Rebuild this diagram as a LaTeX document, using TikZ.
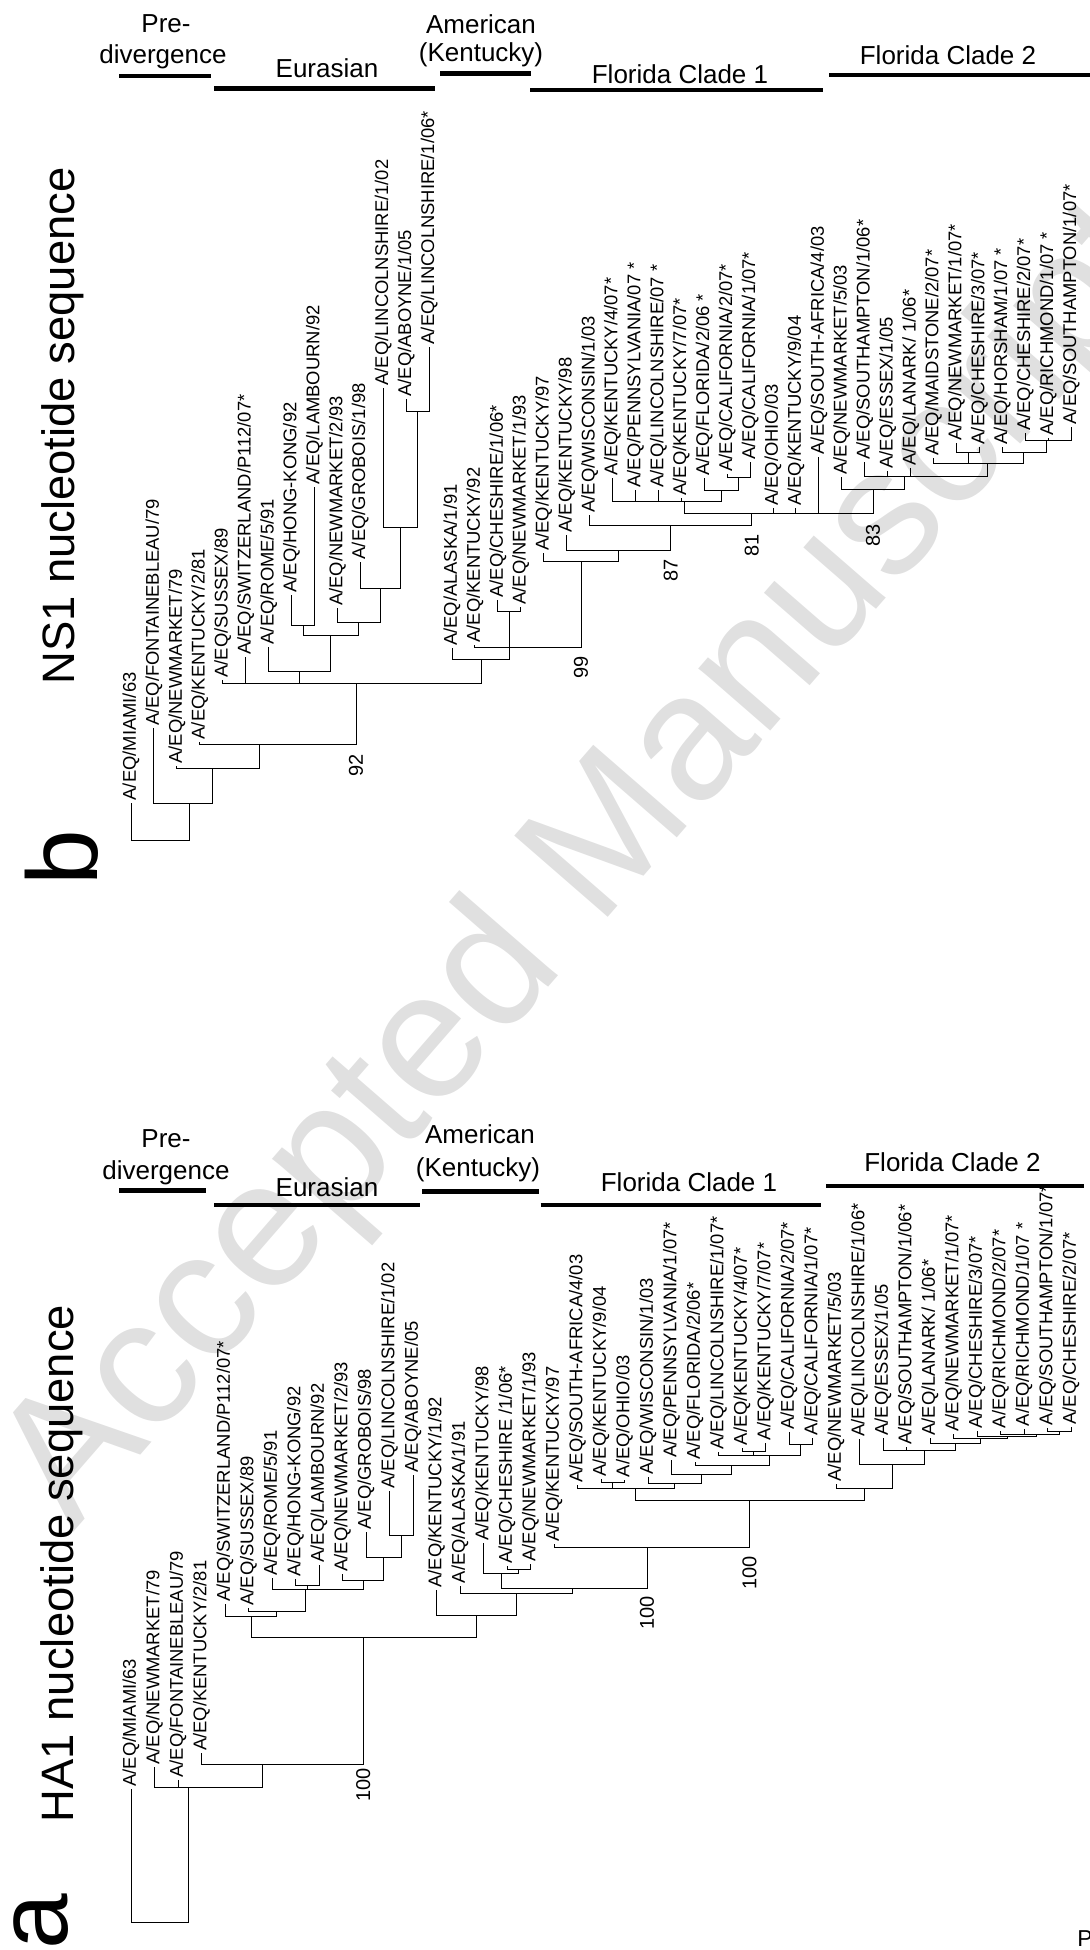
\documentclass[tikz,border=0pt]{standalone}
\usepackage{fontspec}
\setmainfont{Liberation Sans}
\tikzset{
    branch/.style={line width=0.5pt},
    leaf/.style={rotate=90, anchor=west, inner sep=1pt, font=\fontsize{9.2}{10}\selectfont},
    boot/.style={rotate=90, inner sep=0pt, font=\fontsize{10}{11}\selectfont},
    clade/.style={anchor=base, inner sep=0pt, font=\fontsize{13}{15}\selectfont},
    cladebar/.style={line width=2.4pt},
    seqtitle/.style={rotate=90, anchor=base, inner sep=0pt, font=\fontsize{22.7}{26}\selectfont},
    panel/.style={rotate=90, anchor=base, inner sep=0pt, font=\fontsize{50}{55}\selectfont},
}

\begin{document}
\begin{tikzpicture}[x=0.5pt, y=-0.5pt]
    \useasboundingbox (0,0) rectangle (1090,1950);
    \node[rotate=49, text=black!12, font=\fontsize{90}{92}\selectfont] (wmark) at (590,868) {Accepted Manuscript};

    % b: NS1
    \node[panel] (bpanel) at (97,858) {b};
    \node[seqtitle] (btitle) at (74,426) {NS1 nucleotide sequence};

    \node[clade] (bpre) at (166,32.6) {Pre-};
    \node[clade] (bdiv) at (163,63.3) {divergence};
    \node[clade] (beur) at (327,77.3) {Eurasian};
    \node[clade] (bame) at (481,33.3) {American};
    \node[clade] (bken) at (481,61) {(Kentucky)};
    \node[clade] (bfl1) at (680,83.3) {Florida Clade 1};
    \node[clade] (bfl2) at (948,64) {Florida Clade 2};
    \draw[cladebar] (119,76) -- (211,76);
    \draw[cladebar] (214,88.3) -- (435,88.3);
    \draw[cladebar] (440,73.3) -- (531,73.3);
    \draw[cladebar] (530,90) -- (823,90);
    \draw[cladebar] (829,75) -- (1090,75);

    \node[leaf] (b1) at (131.0,802.7) {A/EQ/MIAMI/63};
    \node[leaf] (b2) at (153.9,728.3) {A/EQ/FONTAINEBLEAU/79};
    \node[leaf] (b3) at (176.9,766) {A/EQ/NEWMARKET/79};
    \node[leaf] (b4) at (199.8,741.7) {A/EQ/KENTUCKY/2/81};
    \node[leaf] (b5) at (222.7,680) {A/EQ/SUSSEX/89};
    \node[leaf] (b6) at (245.7,657.3) {A/EQ/SWITZERLAND/P112/07*};
    \node[leaf] (b7) at (268.6,646.7) {A/EQ/ROME/5/91};
    \node[leaf] (b8) at (291.5,595) {A/EQ/HONG-KONG/92};
    \node[leaf] (b9) at (314.4,486.7) {A/EQ/LAMBOURN/92};
    \node[leaf] (b10) at (337.4,608.3) {A/EQ/NEWMARKET/2/93};
    \node[leaf] (b11) at (360.3,561.7) {A/EQ/GROBOIS/1/98};
    \node[leaf] (b12) at (383.2,388) {A/EQ/LINCOLNSHIRE/1/02};
    \node[leaf] (b13) at (406.2,399) {A/EQ/ABOYNE/1/05};
    \node[leaf] (b14) at (429.1,346.7) {A/EQ/LINCOLNSHIRE/1/06*};
    \node[leaf] (b15) at (452.0,648.3) {A/EQ/ALASKA/1/91};
    \node[leaf] (b16) at (474.9,645) {A/EQ/KENTUCKY/92};
    \node[leaf] (b17) at (497.9,600) {A/EQ/CHESHIRE/1/06*};
    \node[leaf] (b18) at (520.8,607) {A/EQ/NEWMARKET/1/93};
    \node[leaf] (b19) at (543.7,553.3) {A/EQ/KENTUCKY/97};
    \node[leaf] (b20) at (566.7,535) {A/EQ/KENTUCKY/98};
    \node[leaf] (b21) at (589.6,515) {A/EQ/WISCONSIN/1/03};
    \node[leaf] (b22) at (612.5,477.5) {A/EQ/KENTUCKY/4/07*};
    \node[leaf] (b23) at (635.4,490) {A/EQ/PENNSYLVANIA/07 *};
    \node[leaf] (b24) at (658.4,490) {A/EQ/LINCOLNSHIRE/07 *};
    \node[leaf] (b25) at (681.3,498) {A/EQ/KENTUCKY/7/07*};
    \node[leaf] (b26) at (704.2,478.3) {A/EQ/FLORIDA/2/06 *};
    \node[leaf] (b27) at (727.2,474) {A/EQ/CALIFORNIA/2/07*};
    \node[leaf] (b28) at (750.1,462) {A/EQ/CALIFORNIA/1/07*};
    \node[leaf] (b29) at (773.0,508.3) {A/EQ/OHIO/03};
    \node[leaf] (b30) at (795.9,508.3) {A/EQ/KENTUCKY/9/04};
    \node[leaf] (b31) at (818.9,456.7) {A/EQ/SOUTH-AFRICA/4/03};
    \node[leaf] (b32) at (841.8,477) {A/EQ/NEWMARKET/5/03};
    \node[leaf] (b33) at (864.7,462) {A/EQ/SOUTHAMPTON/1/06*};
    \node[leaf] (b34) at (887.7,471) {A/EQ/ESSEX/1/05};
    \node[leaf] (b35) at (910.6,468) {A/EQ/LANARK/ 1/06*};
    \node[leaf] (b36) at (933.5,458.3) {A/EQ/MAIDSTONE/2/07*};
    \node[leaf] (b37) at (956.4,443.3) {A/EQ/NEWMARKET/1/07*};
    \node[leaf] (b38) at (979.4,446.7) {A/EQ/CHESHIRE/3/07*};
    \node[leaf] (b39) at (1002.3,446.7) {A/EQ/HORSHAM/1/07 *};
    \node[leaf] (b40) at (1025.2,433.3) {A/EQ/CHESHIRE/2/07*};
    \node[leaf] (b41) at (1048.1,438) {A/EQ/RICHMOND/1/07 *};
    \node[leaf] (b42) at (1071.1,426.7) {A/EQ/SOUTHAMPTON/1/07*};

    \coordinate (broot) at (160,840);
    \coordinate (bA) at (189.8,803.3);
    \coordinate (bB) at (212.7,768.3);
    \coordinate (bC) at (259.3,744);
    \coordinate (bD) at (356,683.3);
    \coordinate (bE) at (299,671.7);
    \coordinate (bG) at (330,635);
    \coordinate (bH) at (303,625);
    \coordinate (bI) at (358.5,622.7);
    \coordinate (bJ) at (380.5,588);
    \coordinate (bK) at (400.6,527);
    \coordinate (bL) at (417.6,411);
    \coordinate (bF) at (481,659.3);
    \coordinate (bM) at (509.5,647.7);
    \coordinate (bN) at (509.4,611.7);
    \coordinate (bP) at (581,561.7);
    \coordinate (bQ) at (618.5,550);
    \coordinate (bR) at (670.7,525);
    \coordinate (bS) at (751.8,513.3);
    \coordinate (bT) at (684,501.3);
    \coordinate (bV) at (721.5,490);
    \coordinate (bW) at (738.7,477);
    \coordinate (bU) at (873,489);
    \coordinate (bX) at (904.5,476);
    \coordinate (bY) at (987,463.5);
    \coordinate (bY1) at (968,452.5);
    \coordinate (bY2) at (1023.5,452.5);
    \coordinate (bY3) at (1046,440.5);

    \draw[branch] (broot) -| (b1) (broot) -| (bA);
    \draw[branch] (bA) -| (b2) (bA) -| (bB);
    \draw[branch] (bB) -| (b3) (bB) -| (bC);
    \draw[branch] (bC) -| (b4) (bC) -| (bD);
    \draw[branch] (bD) -| (b5) (bD) -| (b6) (bD) -| (bE) (bD) -| (bF);
    \draw[branch] (bE) -| (b7) (bE) -| (bG);
    \draw[branch] (bG) -| (bH) (bG) -| (bI);
    \draw[branch] (bH) -| (b8) (bH) -| (b9);
    \draw[branch] (bI) -| (b10) (bI) -| (bJ);
    \draw[branch] (bJ) -| (b11) (bJ) -| (bK);
    \draw[branch] (bK) -| (b12) (bK) -| (bL);
    \draw[branch] (bL) -| (b13) (bL) -| (b14);
    \draw[branch] (bF) -| (b15) (bF) -| (bM);
    \draw[branch] (bM) -| (b16) (bM) -| (bN) (bM) -| (bP);
    \draw[branch] (bN) -| (b17) (bN) -| (b18);
    \draw[branch] (bP) -| (b19) (bP) -| (bQ);
    \draw[branch] (bQ) -| (b20) (bQ) -| (bR);
    \draw[branch] (bR) -| (b21) (bR) -| (bS);
    \draw[branch] (bS) -| (bT) (bS) -| (b29) (bS) -| (b30) (bS) -| (b31) (bS) -| (bU);
    \draw[branch] (bT) -| (b22) (bT) -| (b23) (bT) -| (b24) (bT) -| (b25) (bT) -| (bV);
    \draw[branch] (bV) -| (b26) (bV) -| (bW);
    \draw[branch] (bW) -| (b27) (bW) -| (b28);
    \draw[branch] (bU) -| (b32) (bU) -| (bX);
    \draw[branch] (bX) -| (b33) (bX) -| (b34) (bX) -| (b35) (bX) -| (bY);
    \draw[branch] (bY) -| (b36) (bY) -| (bY1) (bY) -| (bY2);
    \draw[branch] (bY1) -| (b37) (bY1) -| (b38);
    \draw[branch] (bY2) -| (b39) (bY2) -| (bY3);
    \draw[branch] (bY3) -| (b40) (bY3) -| (b41) (bY3) -| (b42);

    \node[boot] (bs92) at (356,765) {92};
    \node[boot] (bs99) at (581,667) {99};
    \node[boot] (bs87) at (670.7,570) {87};
    \node[boot] (bs81) at (751.8,545) {81};
    \node[boot] (bs83) at (873,535) {83};

    % a: HA1
    \node[panel] (apanel) at (68,1922) {a};
    \node[seqtitle] (atitle) at (73.7,1563.4) {HA1 nucleotide sequence};

    \node[clade] (apre) at (166,1147.3) {Pre-};
    \node[clade] (adiv) at (166,1179.3) {divergence};
    \node[clade] (aeur) at (327,1196.7) {Eurasian};
    \node[clade] (aame) at (480,1143.3) {American};
    \node[clade] (aken) at (478,1176.7) {(Kentucky)};
    \node[clade] (afl1) at (689,1191.7) {Florida Clade 1};
    \node[clade] (afl2) at (952.5,1171.7) {Florida Clade 2};
    \draw[cladebar] (119,1190.7) -- (206,1190.7);
    \draw[cladebar] (214,1205) -- (420,1205);
    \draw[cladebar] (422,1191.7) -- (539,1191.7);
    \draw[cladebar] (540.5,1205) -- (821,1205);
    \draw[cladebar] (826,1186) -- (1084,1186);

    \node[leaf] (a1) at (131,1789) {A/EQ/MIAMI/63};
    \node[leaf] (a2) at (154.5,1767) {A/EQ/NEWMARKET/79};
    \node[leaf] (a3) at (178,1780) {A/EQ/FONTAINEBLEAU/79};
    \node[leaf] (a4) at (201.5,1753.3) {A/EQ/KENTUCKY/2/81};
    \node[leaf] (a5) at (225,1604) {A/EQ/SWITZERLAND/P112/07*};
    \node[leaf] (a6) at (248.5,1608) {A/EQ/SUSSEX/89};
    \node[leaf] (a7) at (272,1578.3) {A/EQ/ROME/5/91};
    \node[leaf] (a8) at (295.5,1579) {A/EQ/HONG-KONG/92};
    \node[leaf] (a9) at (319,1565) {A/EQ/LAMBOURN/92};
    \node[leaf] (a10) at (342.5,1574) {A/EQ/NEWMARKET/2/93};
    \node[leaf] (a11) at (366,1532) {A/EQ/GROBOIS/98};
    \node[leaf] (a12) at (389.5,1491) {A/EQ/LINCOLNSHIRE/1/02};
    \node[leaf] (a13) at (413,1475) {A/EQ/ABOYNE/05};
    \node[leaf] (a14) at (436.5,1590) {A/EQ/KENTUCKY/1/92};
    \node[leaf] (a15) at (460,1585.5) {A/EQ/ALASKA/1/91};
    \node[leaf] (a16) at (483.5,1543.3) {A/EQ/KENTUCKY/98};
    \node[leaf] (a17) at (507,1566) {A/EQ/CHESHIRE /1/06*};
    \node[leaf] (a18) at (530.5,1564) {A/EQ/NEWMARKET/1/93};
    \node[leaf] (a19) at (554,1544) {A/EQ/KENTUCKY/97};
    \node[leaf] (a20) at (577.5,1485) {A/EQ/SOUTH-AFRICA/4/03};
    \node[leaf] (a21) at (601,1479) {A/EQ/KENTUCKY/9/04};
    \node[leaf] (a22) at (624.5,1479.5) {A/EQ/OHIO/03};
    \node[leaf] (a23) at (648,1477) {A/EQ/WISCONSIN/1/03};
    \node[leaf] (a24) at (671.5,1460) {A/EQ/PENNSYLVANIA/1/07*};
    \node[leaf] (a25) at (695,1462) {A/EQ/FLORIDA/2/06*};
    \node[leaf] (a26) at (718.5,1452) {A/EQ/LINCOLNSHIRE/1/07*};
    \node[leaf] (a27) at (742,1447.5) {A/EQ/KENTUCKY/4/07*};
    \node[leaf] (a28) at (765.5,1442.5) {A/EQ/KENTUCKY/7/07*};
    \node[leaf] (a29) at (789,1432) {A/EQ/CALIFORNIA/2/07*};
    \node[leaf] (a30) at (812.5,1437.5) {A/EQ/CALIFORNIA/1/07*};
    \node[leaf] (a31) at (836,1484) {A/EQ/NEWMARKET/5/03};
    \node[leaf] (a32) at (859.5,1439) {A/EQ/LINCOLNSHIRE/1/06*};
    \node[leaf] (a33) at (883,1438) {A/EQ/ESSEX/1/05};
    \node[leaf] (a34) at (906.5,1447) {A/EQ/SOUTHAMPTON/1/06*};
    \node[leaf] (a35) at (930,1438) {A/EQ/LANARK/ 1/06*};
    \node[leaf] (a36) at (953.5,1434) {A/EQ/NEWMARKET/1/07*};
    \node[leaf] (a37) at (977,1431) {A/EQ/CHESHIRE/3/07*};
    \node[leaf] (a38) at (1000.5,1430.5) {A/EQ/RICHMOND/2/07*};
    \node[leaf] (a39) at (1024,1428.5) {A/EQ/RICHMOND/1/07 *};
    \node[leaf] (a40) at (1047.5,1427.5) {A/EQ/SOUTHAMPTON/1/07*};
    \node[leaf] (a41) at (1071,1427) {A/EQ/CHESHIRE/2/07*};

    \coordinate (aroot) at (160,1922.7);
    \coordinate (aA) at (188.4,1787.7);
    \coordinate (aB) at (262.4,1764);
    \coordinate (aC) at (363.3,1637.3);
    \coordinate (aD) at (251,1616);
    \coordinate (aD2) at (276.5,1611.7);
    \coordinate (aF) at (305,1589);
    \coordinate (aG) at (307.3,1585);
    \coordinate (aH) at (363.2,1580);
    \coordinate (aI) at (383.8,1557.5);
    \coordinate (aJ) at (401.3,1535.5);
    \coordinate (aE) at (476.3,1615.7);
    \coordinate (aK) at (516.2,1593.3);
    \coordinate (aM) at (572,1588.3);
    \coordinate (aL) at (501.1,1573.3);
    \coordinate (aL2) at (518.8,1569.5);
    \coordinate (aN) at (647,1547.7);
    \coordinate (aO) at (749.4,1500.3);
    \coordinate (aP) at (635,1488.5);
    \coordinate (aP2) at (612.8,1482.7);
    \coordinate (aP3) at (674.8,1483.3);
    \coordinate (aP4) at (701.8,1474);
    \coordinate (aP5) at (731.3,1465);
    \coordinate (aP6) at (769,1455.7);
    \coordinate (aP7) at (753.8,1451.7);
    \coordinate (aP8) at (800.8,1444);
    \coordinate (aQ) at (864.3,1488.3);
    \coordinate (aR) at (892.3,1464);
    \coordinate (aS) at (924.6,1450.5);
    \coordinate (aT) at (955.3,1443.3);
    \coordinate (aU) at (980.3,1438.5);
    \coordinate (aV) at (1007,1436);
    \coordinate (aW) at (1036.4,1434);
    \coordinate (aX) at (1059.3,1431);

    \draw[branch] (aroot) -| (a1) (aroot) -| (aA);
    \draw[branch] (aA) -| (a2) (aA) -| (a3) (aA) -| (aB);
    \draw[branch] (aB) -| (a4) (aB) -| (aC);
    \draw[branch] (aC) -| (aD) (aC) -| (aE);
    \draw[branch] (aD) -| (a5) (aD) -| (aD2);
    \draw[branch] (aD2) -| (a6) (aD2) -| (aF);
    \draw[branch] (aF) -| (a7) (aF) -| (aG) (aF) -| (aH);
    \draw[branch] (aG) -| (a8) (aG) -| (a9);
    \draw[branch] (aH) -| (a10) (aH) -| (aI);
    \draw[branch] (aI) -| (a11) (aI) -| (aJ);
    \draw[branch] (aJ) -| (a12) (aJ) -| (a13);
    \draw[branch] (aE) -| (a14) (aE) -| (aK);
    \draw[branch] (aK) -| (a15) (aK) -| (aM);
    \draw[branch] (aM) -| (aL) (aM) -| (aN);
    \draw[branch] (aL) -| (a16) (aL) -| (aL2);
    \draw[branch] (aL2) -| (a17) (aL2) -| (a18);
    \draw[branch] (aN) -| (a19) (aN) -| (aO);
    \draw[branch] (aO) -| (aP) (aO) -| (aQ);
    \draw[branch] (aP) -| (a20) (aP) -| (aP2) (aP) -| (aP3);
    \draw[branch] (aP2) -| (a21) (aP2) -| (a22);
    \draw[branch] (aP3) -| (a23) (aP3) -| (aP4);
    \draw[branch] (aP4) -| (a24) (aP4) -| (aP5);
    \draw[branch] (aP5) -| (a25) (aP5) -| (aP6);
    \draw[branch] (aP6) -| (a26) (aP6) -| (aP7) (aP6) -| (aP8);
    \draw[branch] (aP7) -| (a27) (aP7) -| (a28);
    \draw[branch] (aP8) -| (a29) (aP8) -| (a30);
    \draw[branch] (aQ) -| (a31) (aQ) -| (aR);
    \draw[branch] (aR) -| (a32) (aR) -| (aS);
    \draw[branch] (aS) -| (a33) (aS) -| (a34) (aS) -| (aT);
    \draw[branch] (aT) -| (a35) (aT) -| (aU);
    \draw[branch] (aU) -| (a36) (aU) -| (aV);
    \draw[branch] (aV) -| (a37) (aV) -| (aW);
    \draw[branch] (aW) -| (a38) (aW) -| (a39) (aW) -| (aX);
    \draw[branch] (aX) -| (a40) (aX) -| (a41);

    \node[boot] (as100a) at (363.3,1785) {100};
    \node[boot] (as100b) at (647,1613) {100};
    \node[boot] (as100c) at (749.4,1573) {100};

    \node[anchor=base west, inner sep=0pt, font=\fontsize{11.5}{12}\selectfont] (pg) at (1077,1946.7) {P};
\end{tikzpicture}
\end{document}
